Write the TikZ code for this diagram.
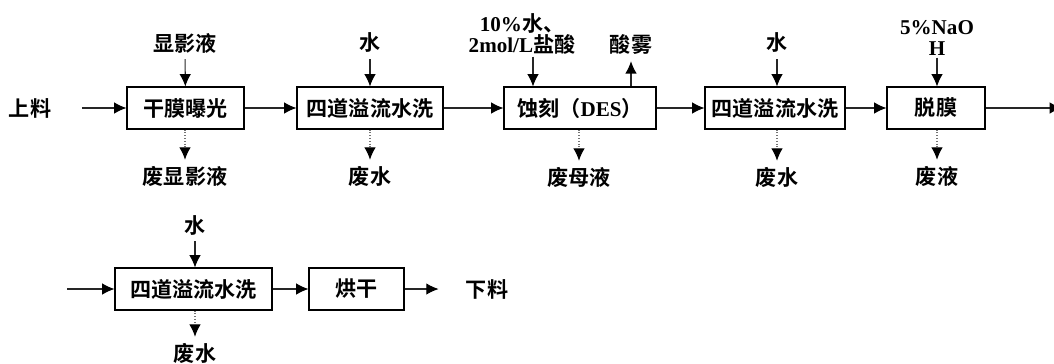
\documentclass[tikz,border=0pt]{standalone}
\usepackage{fontspec}
\setmainfont{Liberation Serif}
\newfontfamily\cjk{Noto Sans CJK SC}[BoldFont={Noto Sans CJK SC Bold}]
\newcommand{\zh}[1]{{\cjk\bfseries #1}}
\usetikzlibrary{arrows.meta}

\begin{document}
\begin{tikzpicture}[x=0.02cm,y=-0.02cm,
  font=\fontsize{12}{13}\selectfont\bfseries,
  box/.style={draw=black, line width=0.6pt, minimum height=0.84cm, inner sep=0pt},
  flow/.style={draw=black!85, line width=0.6pt, -{Latex[length=7pt,width=6.5pt,color=black]}},
  waste/.style={flow, densely dotted, draw=black!55}]
  \useasboundingbox (0,0) rectangle (1054,363);
% first row
   \node (in) at (30,108) {\zh{上料}};
   \node[box, minimum width=2.34cm] (expo) at (185.5,108) {\zh{干膜曝光}};
   \node[box, minimum width=2.92cm] (wash1) at (370,108) {\zh{四道溢流水洗}};
   \node[box, minimum width=3.04cm] (etch) at (580,108) {\zh{蚀刻（}DES\zh{）}};
   \node[box, minimum width=2.80cm] (wash2) at (775,108) {\zh{四道溢流水洗}};
   \node[box, minimum width=1.96cm] (strip) at (936,108) {\zh{脱膜}};
   \coordinate (out1) at (1062,108);
% inputs
   \node (dev) at (185,43) {\zh{显影液}};
   \node (water1) at (370,43) {\zh{水}};
   \node[align=center, inner sep=1pt] (acid) at (522,34) {10\%\zh{水、}\\[-1pt]2mol/L\zh{盐酸}};
   \node (mist) at (631,45) {\zh{酸雾}};
   \node (water2) at (777,43) {\zh{水}};
   \node[align=center, inner sep=1pt] (naoh) at (937,38) {5\%NaO\\[-1pt]H};
% outputs
   \node (wdev) at (185,176) {\zh{废显影液}};
   \node (ww1) at (370,176) {\zh{废水}};
   \node (wetch) at (579,177) {\zh{废母液}};
   \node (ww2) at (777,177) {\zh{废水}};
   \node (wstrip) at (937,176) {\zh{废液}};
% second row
   \coordinate (in2) at (67,289);
   \node[box, minimum width=3.14cm] (wash3) at (193.5,289) {\zh{四道溢流水洗}};
   \node[box, minimum width=1.90cm] (dry) at (356.5,289) {\zh{烘干}};
   \node (out) at (487,289) {\zh{下料}};
   \node (water3) at (195,225) {\zh{水}};
   \node (ww3) at (195,353) {\zh{废水}};

   \draw[flow, shorten <=14pt] (in) -- (expo);
   \draw[flow] (expo) -- (wash1);
   \draw[flow] (wash1) -- (etch);
   \draw[flow] (etch) -- (wash2);
   \draw[flow] (wash2) -- (strip);
   \draw[flow] (strip) -- (out1);
   \draw[flow] (dev) -- (expo);
   \draw[flow] (water1) -- (wash1);
   \draw[flow] ([xshift=0.22cm]acid.south) -- ([xshift=0.22cm]acid.south |- etch.north);
   \draw[flow] (mist.south |- etch.north) -- (mist.south);
   \draw[flow] (water2) -- (water2 |- wash2.north);
   \draw[flow] (naoh) -- (naoh |- strip.north);
   \draw[waste] (expo.south -| wdev) -- (wdev);
   \draw[waste] (wash1) -- (ww1);
   \draw[waste] (wetch |- etch.south) -- (wetch);
   \draw[waste] (ww2 |- wash2.south) -- (ww2);
   \draw[waste] (wstrip |- strip.south) -- (wstrip);
   \draw[flow] (in2) -- (wash3);
   \draw[flow] (wash3) -- (dry);
   \draw[flow, shorten >=12pt] (dry) -- (out);
   \draw[flow] (water3) -- (water3 |- wash3.north);
   \draw[waste] (ww3 |- wash3.south) -- (ww3);
\end{tikzpicture}
\end{document}
